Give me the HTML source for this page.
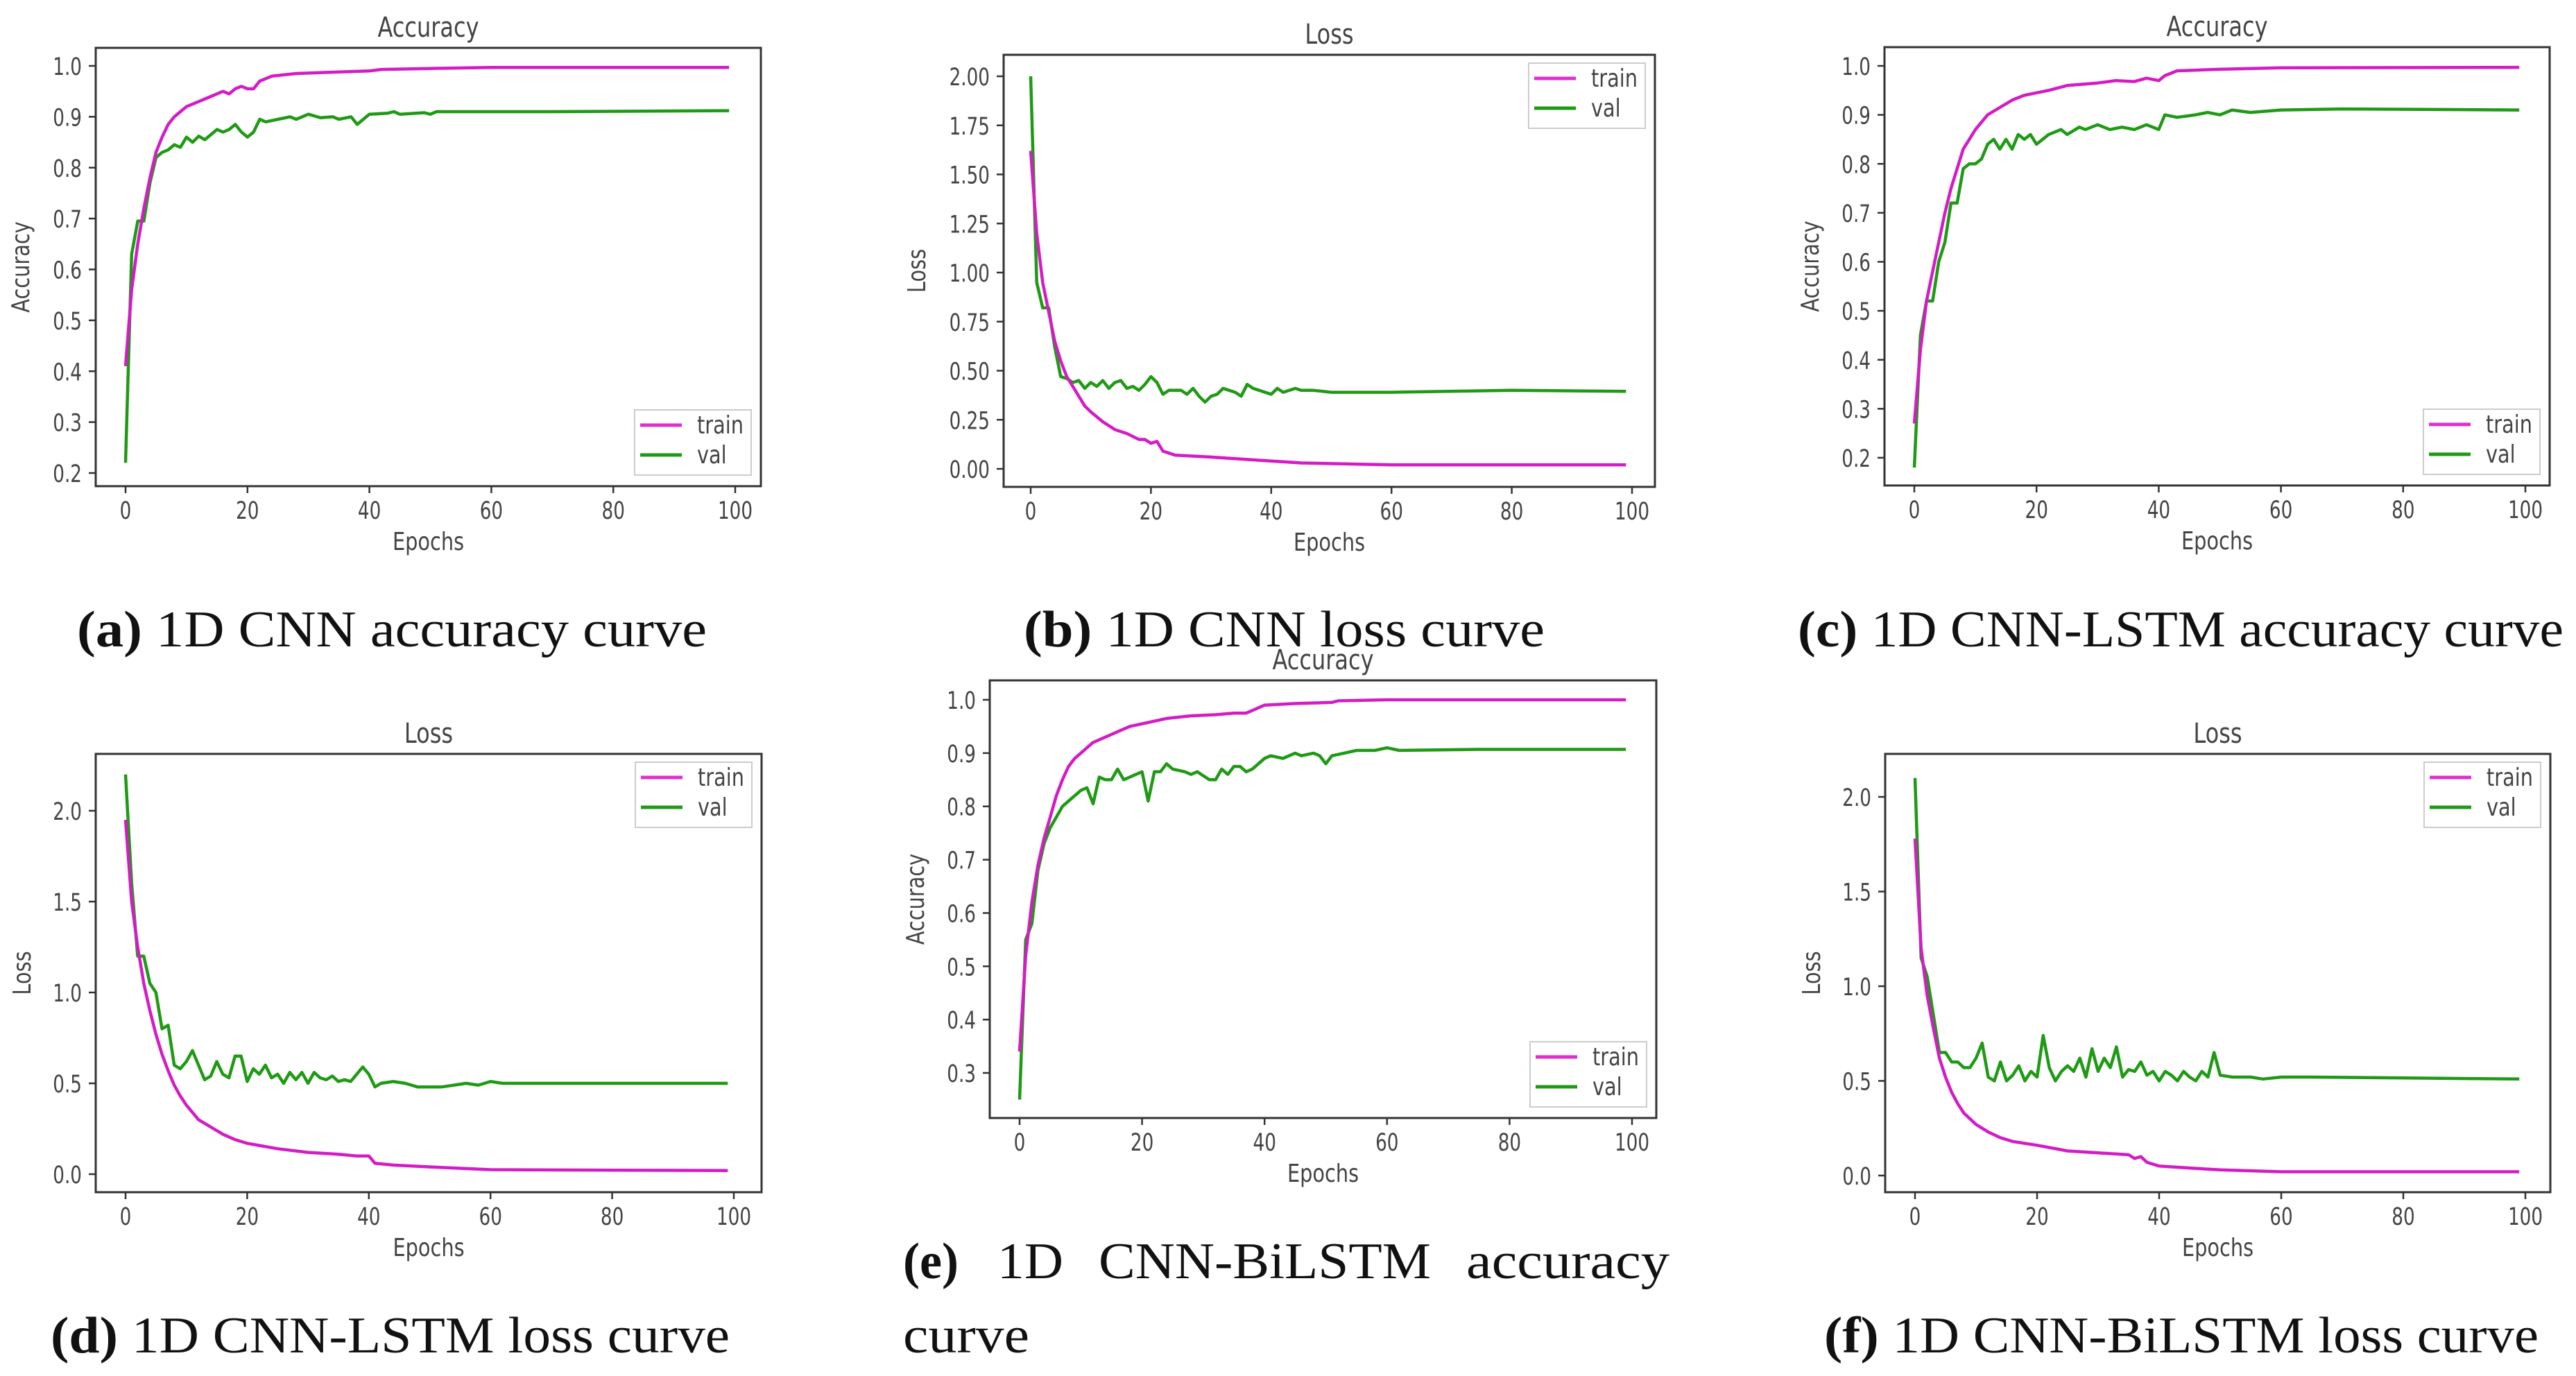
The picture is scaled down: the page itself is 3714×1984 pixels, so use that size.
<!DOCTYPE html>
<html><head><meta charset="utf-8"><title>Training curves</title>
<style>
html,body{margin:0;padding:0;background:#fff;}
svg{display:block;}
.tick{font-family:"DejaVu Sans","Liberation Sans",sans-serif;fill:#444;}
.cap{font-family:"Liberation Serif",serif;fill:#111;}
</style></head>
<body>
<svg id="fig" xmlns="http://www.w3.org/2000/svg" width="3714" height="1984" viewBox="0 0 3714 1984">
<rect x="0" y="0" width="3714" height="1984" fill="#fff"/>
</svg>
<script>
// ---- data ----
const aEp  = [0,1,2,3,4,5,6,7,8,9,10,12,14,16,17,18,19,20,21,22,24,28,35,40,42,50,60,80,99];
const aTr  = [0.41,0.56,0.65,0.72,0.78,0.83,0.86,0.885,0.90,0.91,0.92,0.93,0.94,0.95,0.945,0.955,0.96,0.955,0.955,0.97,0.98,0.985,0.988,0.99,0.993,0.995,0.997,0.997,0.997];
const aVEp = [0,1,2,3,4,5,6,7,8,9,10,11,12,13,14,15,16,17,18,19,20,21,22,23,25,27,28,30,32,34,35,37,38,40,43,44,45,49,50,51,55,70,99];
const aVal = [0.22,0.63,0.695,0.695,0.77,0.82,0.83,0.835,0.845,0.84,0.86,0.85,0.862,0.855,0.865,0.875,0.87,0.875,0.885,0.87,0.86,0.87,0.895,0.89,0.895,0.9,0.895,0.905,0.898,0.9,0.895,0.9,0.885,0.905,0.907,0.91,0.905,0.908,0.905,0.91,0.91,0.91,0.912];

const bEp  = [0,1,2,3,4,5,6,7,8,9,10,12,14,16,18,19,20,21,22,24,30,35,40,45,60,99];
const bTr  = [1.62,1.2,0.95,0.8,0.65,0.55,0.47,0.42,0.37,0.32,0.29,0.24,0.2,0.18,0.15,0.15,0.13,0.14,0.09,0.07,0.06,0.05,0.04,0.03,0.02,0.02];
const bVEp = [0,1,2,3,4,5,6,7,8,9,10,11,12,13,14,15,16,17,18,19,20,21,22,23,25,26,27,28,29,30,31,32,33,34,35,36,37,38,40,41,42,44,45,47,50,60,80,99];
const bVal = [2.0,0.95,0.82,0.82,0.62,0.47,0.46,0.44,0.45,0.41,0.44,0.42,0.45,0.41,0.44,0.45,0.41,0.42,0.4,0.43,0.47,0.44,0.38,0.4,0.4,0.38,0.41,0.37,0.34,0.37,0.38,0.41,0.4,0.39,0.37,0.43,0.41,0.4,0.38,0.41,0.39,0.41,0.4,0.4,0.39,0.39,0.4,0.395];

const cEp  = [0,1,2,3,4,5,6,7,8,9,10,11,12,14,16,18,20,22,25,30,33,36,38,40,41,43,50,60,99];
const cTr  = [0.27,0.42,0.52,0.58,0.64,0.7,0.75,0.79,0.83,0.85,0.87,0.885,0.9,0.915,0.93,0.94,0.945,0.95,0.96,0.965,0.97,0.968,0.975,0.97,0.98,0.99,0.993,0.996,0.997];
const cVEp = [0,1,2,3,4,5,6,7,8,9,10,11,12,13,14,15,16,17,18,19,20,22,24,25,27,28,30,32,34,36,38,40,41,43,46,48,50,52,55,60,70,99];
const cVal = [0.18,0.45,0.52,0.52,0.6,0.64,0.72,0.72,0.79,0.8,0.8,0.81,0.84,0.85,0.83,0.85,0.83,0.86,0.85,0.86,0.84,0.86,0.87,0.86,0.875,0.87,0.88,0.87,0.875,0.87,0.88,0.87,0.9,0.895,0.9,0.905,0.9,0.91,0.905,0.91,0.912,0.91];

const dEp  = [0,1,2,3,4,5,6,7,8,9,10,12,14,16,18,20,25,30,35,38,40,41,44,50,60,99];
const dTr  = [1.95,1.5,1.25,1.05,0.9,0.77,0.66,0.57,0.49,0.43,0.38,0.3,0.26,0.22,0.19,0.17,0.14,0.12,0.11,0.1,0.1,0.06,0.05,0.04,0.025,0.02];
const dVEp = [0,1,2,3,4,5,6,7,8,9,10,11,12,13,14,15,16,17,18,19,20,21,22,23,24,25,26,27,28,29,30,31,32,33,34,35,36,37,38,39,40,41,42,44,46,48,52,56,58,60,62,99];
const dVal = [2.2,1.6,1.2,1.2,1.05,1.0,0.8,0.82,0.6,0.58,0.62,0.68,0.6,0.52,0.54,0.62,0.55,0.53,0.65,0.65,0.51,0.58,0.55,0.6,0.53,0.55,0.5,0.56,0.52,0.56,0.5,0.56,0.53,0.52,0.54,0.51,0.52,0.51,0.55,0.59,0.55,0.48,0.5,0.51,0.5,0.48,0.48,0.5,0.49,0.51,0.5,0.5];

const eEp  = [0,1,2,3,4,5,6,7,8,9,10,11,12,14,16,18,20,24,28,32,35,37,38,40,45,51,52,60,99];
const eTr  = [0.34,0.52,0.62,0.69,0.74,0.78,0.82,0.85,0.875,0.89,0.9,0.91,0.92,0.93,0.94,0.95,0.955,0.965,0.97,0.972,0.975,0.975,0.98,0.99,0.993,0.995,0.998,1.0,1.0];
const eVEp = [0,1,2,3,4,5,6,7,8,9,10,11,12,13,14,15,16,17,18,19,20,21,22,23,24,25,27,28,29,31,32,33,34,35,36,37,38,40,41,43,45,46,48,49,50,51,53,55,58,60,62,75,99];
const eVal = [0.25,0.55,0.58,0.68,0.73,0.76,0.78,0.8,0.81,0.82,0.83,0.835,0.805,0.855,0.85,0.85,0.87,0.85,0.855,0.86,0.865,0.81,0.865,0.865,0.88,0.87,0.865,0.86,0.865,0.85,0.85,0.87,0.86,0.875,0.875,0.865,0.87,0.89,0.895,0.89,0.9,0.895,0.9,0.895,0.88,0.895,0.9,0.905,0.905,0.91,0.905,0.907,0.907];

const fEp  = [0,1,2,3,4,5,6,7,8,10,12,14,16,20,25,30,35,36,37,38,40,45,50,60,99];
const fTr  = [1.78,1.2,0.95,0.78,0.62,0.52,0.44,0.38,0.33,0.27,0.23,0.2,0.18,0.16,0.13,0.12,0.11,0.09,0.1,0.07,0.05,0.04,0.03,0.02,0.02];
const fVEp = [0,1,2,3,4,5,6,7,8,9,10,11,12,13,14,15,16,17,18,19,20,21,22,23,24,25,26,27,28,29,30,31,32,33,34,35,36,37,38,39,40,41,42,43,44,45,46,47,48,49,50,52,55,57,60,65,99];
const fVal = [2.1,1.15,1.05,0.85,0.65,0.65,0.6,0.6,0.57,0.57,0.62,0.7,0.52,0.5,0.6,0.5,0.53,0.58,0.5,0.55,0.52,0.74,0.57,0.5,0.55,0.58,0.55,0.62,0.52,0.67,0.55,0.62,0.57,0.68,0.52,0.56,0.55,0.6,0.53,0.55,0.5,0.55,0.53,0.5,0.55,0.52,0.5,0.55,0.52,0.65,0.53,0.52,0.52,0.51,0.52,0.52,0.51];

const xTicks = [0,20,40,60,80,100];
const accTicks = [0.2,0.3,0.4,0.5,0.6,0.7,0.8,0.9,1.0];
const accTicksE = [0.3,0.4,0.5,0.6,0.7,0.8,0.9,1.0];
const lossTicksB = [0,0.25,0.5,0.75,1.0,1.25,1.5,1.75,2.0];
const lossTicks = [0,0.5,1.0,1.5,2.0];

// ---- layout ----
const NS='http://www.w3.org/2000/svg';
const svg=document.getElementById('fig');
function mk(tag,attrs,parent){const e=document.createElementNS(NS,tag);for(const k in attrs)e.setAttribute(k,attrs[k]);(parent||svg).appendChild(e);return e;}
function txt(parent,x,y,s,size,anchor,sx,extra){
  const t=mk('text',{class:'tick','font-size':size,'text-anchor':anchor||'middle',transform:'translate('+x+','+y+') scale('+(sx||0.75)+',1)'+(extra||'')},parent);
  t.textContent=s;return t;}

const panels=[
 {id:'a',L:138,R:1097,T:69,B:701,x0:181,x100:1060,v1:1.0,p1:95,v2:0.2,p2:682,ticks:accTicks,dec:1,title:'Accuracy',ylab:'Accuracy',ylx:42,leg:'br',ep:aEp,tr:aTr,vep:aVEp,val:aVal},
 {id:'b',L:1447,R:2386,T:79,B:702,x0:1486,x100:2353,v1:2.0,p1:110,v2:0,p2:676,ticks:lossTicksB,dec:2,title:'Loss',ylab:'Loss',ylx:1334,leg:'tr',ep:bEp,tr:bTr,vep:bVEp,val:bVal},
 {id:'c',L:2717,R:3676,T:68,B:700,x0:2760,x100:3641,v1:1.0,p1:95,v2:0.2,p2:660,ticks:accTicks,dec:1,title:'Accuracy',ylab:'Accuracy',ylx:2622,leg:'br',ep:cEp,tr:cTr,vep:cVEp,val:cVal},
 {id:'d',L:138,R:1098,T:1087,B:1719,x0:181,x100:1058,v1:2.0,p1:1169,v2:0,p2:1693,ticks:lossTicks,dec:1,title:'Loss',ylab:'Loss',ylx:44,leg:'tr',ep:dEp,tr:dTr,vep:dVEp,val:dVal},
 {id:'e',L:1427,R:2388,T:981,B:1612,x0:1470,x100:2353,v1:1.0,p1:1009,v2:0.3,p2:1547,ticks:accTicksE,dec:1,title:'Accuracy',ylab:'Accuracy',ylx:1332,leg:'br',ep:eEp,tr:eTr,vep:eVEp,val:eVal},
 {id:'f',L:2718,R:3677,T:1087,B:1719,x0:2761,x100:3641,v1:2.0,p1:1149,v2:0,p2:1695,ticks:lossTicks,dec:1,title:'Loss',ylab:'Loss',ylx:2624,leg:'tr',ep:fEp,tr:fTr,vep:fVEp,val:fVal}
];

panels.forEach(p=>{
  const g=mk('g',{});
  
  
  const X=v=>p.x0+(v/100)*(p.x100-p.x0);
  const Y=v=>p.p1+(v-p.v1)*(p.p2-p.p1)/(p.v2-p.v1);
  const fr=mk('rect',{x:p.L,y:p.T,width:p.R-p.L,height:p.B-p.T,fill:'#fff',stroke:'#333','stroke-width':3},g);
  
  
  const t=txt(g,(p.L+p.R)/2,p.T-16,p.title,40,'middle',0.8);
  
  
  xTicks.forEach(v=>{
    mk('line',{x1:X(v),x2:X(v),y1:p.B,y2:p.B+10,stroke:'#333','stroke-width':2.5},g);
    const l=txt(g,X(v),p.B+47,String(v),35,'middle');
    
    
  });
  p.ticks.forEach(v=>{
    mk('line',{x1:p.L-10,x2:p.L,y1:Y(v),y2:Y(v),stroke:'#333','stroke-width':2.5},g);
    const l=txt(g,p.L-20,Y(v)+13,v.toFixed(p.dec),35,'end');
    
    
  });
  const xl=txt(g,(p.L+p.R)/2,p.B+92,'Epochs',36,'middle',0.8);
  
  
  const yl=mk('text',{class:'tick','font-size':36,'text-anchor':'middle',transform:'translate('+p.ylx+','+(p.T+p.B)/2+') rotate(-90) scale(0.8,1)'},g);
  yl.textContent=p.ylab;
  
  
  const path=(ep,vals)=>ep.map((e,i)=>(i?'L':'M')+X(e).toFixed(1)+','+Y(vals[i]).toFixed(1)).join(' ');
  const vl=mk('path',{d:path(p.vep,p.val),fill:'none',stroke:'#1f9a14','stroke-width':4.5,'stroke-linejoin':'round'},g);
  
  
  const tl=mk('path',{d:path(p.ep,p.tr),fill:'none',stroke:'#d41cc4','stroke-width':4.5,'stroke-linejoin':'round'},g);
  
  
  if(p.leg==='br'){ /* bring val above train at bottom-right charts? keep order */ }
  // legend
  const lw=168,lh=94;
  const lx=p.R-14-lw, ly=p.leg==='tr'?p.T+12:p.B-16-lh;
  const lg=mk('g',{},g);
  
  
  mk('rect',{x:lx,y:ly,width:lw,height:lh,fill:'#fff',stroke:'#ccc','stroke-width':2},lg);
  [['train','#e030cc',22],['val','#1f9a14',65]].forEach(([n,c,dy])=>{
    const ent=mk('g',{},lg);
    
    
    mk('line',{x1:lx+8,x2:lx+68,y1:ly+dy,y2:ly+dy,stroke:c,'stroke-width':5},ent);
    txt(ent,lx+90,ly+dy+12,n,36,'start',0.8);
  });
});

// ---- captions ----
function cap(x,y,bold,rest,len,name){
  const t=mk('text',{class:'cap',x:x,y:y,'font-size':74,textLength:len,lengthAdjust:'spacingAndGlyphs'});
  
  
  const b=mk('tspan',{'font-weight':'bold'},t);b.textContent=bold;
  const r=mk('tspan',{},t);r.textContent=rest;
  return t;
}
cap(111,932,'(a)',' 1D CNN accuracy curve',908,'caption-a');
cap(1476,932,'(b)',' 1D CNN loss curve',751,'caption-b');
cap(2592,932,'(c)',' 1D CNN-LSTM accuracy curve',1104,'caption-c');
cap(73,1950,'(d)',' 1D CNN-LSTM loss curve',979,'caption-d');
cap(2630,1950,'(f)',' 1D CNN-BiLSTM loss curve',1030,'caption-f');
(function(){
  const g=mk('g',{});
  
  
  const words=[['(e)',1302,80,true],['1D',1438,95,false],['CNN-BiLSTM',1584,479,false],['accuracy',2114,293,false]];
  words.forEach(([w,x,l,b])=>{
    const t=mk('text',{class:'cap',x:x,y:1843,'font-size':74,textLength:l,lengthAdjust:'spacingAndGlyphs','font-weight':b?'bold':'normal'},g);
    t.textContent=w;
  });
  const t2=mk('text',{class:'cap',x:1302,y:1950,'font-size':74,textLength:182,lengthAdjust:'spacingAndGlyphs'},g);
  t2.textContent='curve';
})();
</script>
</body></html>
